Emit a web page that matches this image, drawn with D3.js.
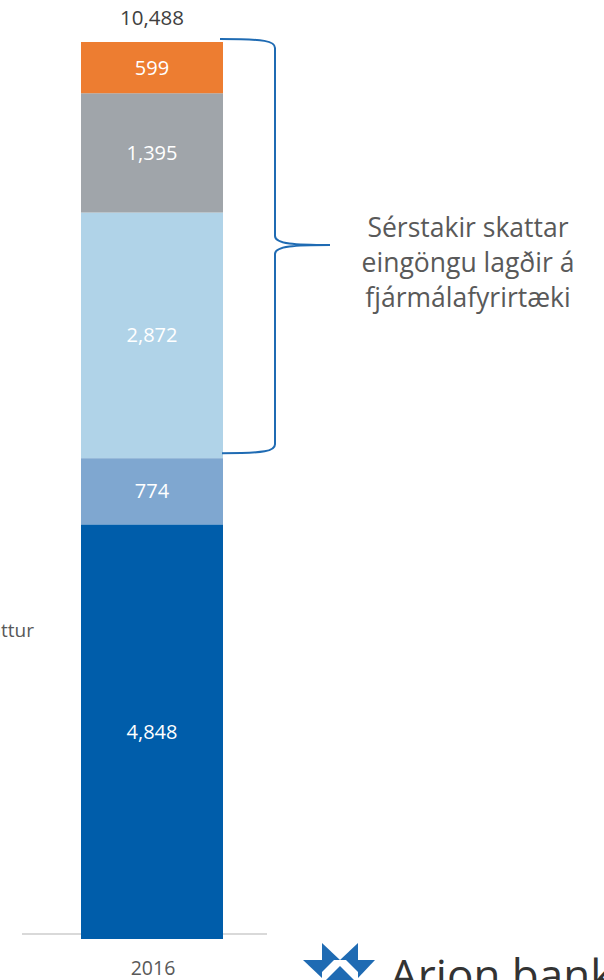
<!DOCTYPE html>
<html>
<head>
<meta charset="utf-8">
<script src="https://cdn.jsdelivr.net/npm/d3@7"></script>
<style>
  html, body { margin: 0; padding: 0; background: #fff; }
  svg { display: block; }
</style>
</head>
<body>
<svg id="chart" width="604" height="980"></svg>
<script>
// ---- data ----
const categories = ["2016"];
const seriesNames = ["Tekjuskattur", "Tryggingagjald", "Bankaskattur", "Fjársýsluskattur", "Sérstakur fjársýsluskattur"];
const seriesValues = [4848, 774, 2872, 1395, 599];
const seriesColors = ["#005DAA", "#7FA7D0", "#B0D3E8", "#A0A5AA", "#ED7D31"];
const totalLabel = "10,488";
const bracketText = ["Sérstakir skattar", "eingöngu lagðir á", "fjármálafyrirtæki"];
const bracketFirst = 2, bracketLast = 4; // series indices covered by the brace

const svg = d3.select("#chart");
const font = "'Open Sans', 'Noto Sans', sans-serif";

const x = d3.scaleBand().domain(categories).range([81, 223]).padding(0);
const total = d3.sum(seriesValues);
const y = d3.scaleLinear().domain([0, total]).range([939, 42]);

// build stacked table
const row = { cat: categories[0] };
seriesNames.forEach((n, i) => row[n] = seriesValues[i]);
const stacked = d3.stack().keys(seriesNames)([row]);

// baseline
svg.append("line")
  .attr("x1", 22).attr("x2", 267)
  .attr("y1", 934).attr("y2", 934)
  .attr("stroke", "#d9d9d9").attr("stroke-width", 2);

// bars
const g = svg.append("g");
stacked.forEach((s, i) => {
  const d = s[0];
  g.append("rect")
    .attr("x", x(d.data.cat))
    .attr("width", x.bandwidth())
    .attr("y", y(d[1]))
    .attr("height", y(d[0]) - y(d[1]))
    .attr("fill", seriesColors[i]);
  g.append("text")
    .attr("x", x(d.data.cat) + x.bandwidth() / 2)
    .attr("y", (y(d[0]) + y(d[1])) / 2)
    .attr("dy", "0.35em")
    .attr("text-anchor", "middle")
    .attr("font-family", font)
    .attr("font-size", 20)
    .attr("fill", "#fff")
    .text(d3.format(",")(seriesValues[i]));
});

// total label
svg.append("text")
  .attr("x", x(categories[0]) + x.bandwidth() / 2)
  .attr("y", y(total) - 17)
  .attr("text-anchor", "middle")
  .attr("font-family", font)
  .attr("font-size", 20.5)
  .attr("fill", "#404040")
  .text(totalLabel);

// category label
svg.append("text")
  .attr("x", x(categories[0]) + x.bandwidth() / 2 + 1)
  .attr("y", 975)
  .attr("text-anchor", "middle")
  .attr("font-family", font)
  .attr("font-size", 19.5)
  .attr("fill", "#595959")
  .text(categories[0]);

// series label for bottom segment (cut off at left edge, as in the reference)
svg.append("text")
  .attr("x", 34)
  .attr("y", 637)
  .attr("text-anchor", "end")
  .attr("font-family", font)
  .attr("font-size", 19)
  .attr("fill", "#595959")
  .text(seriesNames[0]);

// brace
const topY = y(stacked[bracketLast][0][1]) - 3;
const botY = y(stacked[bracketFirst][0][0]) - 5;
const midY = (topY + botY) / 2 - 1;
const x0 = 220, xv = 275, xt = 330;
const p = d3.path();
p.moveTo(x0, topY);
p.bezierCurveTo(xv - 10, topY, xv, topY + 2, xv, topY + 9);
p.lineTo(xv, midY - 9);
p.bezierCurveTo(xv, midY - 1, xv + 20, midY, xt, midY);
p.bezierCurveTo(xv + 20, midY, xv, midY + 1, xv, midY + 9);
p.lineTo(xv, botY - 9);
p.bezierCurveTo(xv, botY - 2, xv - 10, botY, x0 + 2, botY);
svg.append("path")
  .attr("d", p.toString())
  .attr("fill", "none")
  .attr("stroke", "#1F6BB3")
  .attr("stroke-width", 2);

// bracket text
const bt = svg.append("text")
  .attr("text-anchor", "middle")
  .attr("font-family", font)
  .attr("font-size", 26.5)
  .attr("fill", "#595959");
bracketText.forEach((t, i) => {
  bt.append("tspan").attr("x", 468).attr("y", 237 + i * 35).text(t);
});

// logo
const logo = svg.append("g").attr("fill", "#1F6BB3");
const polys = [
  [[322, 943], [322, 960], [340, 960]],
  [[358, 943], [358, 960], [340, 960]],
  [[303, 960], [322, 960], [322, 978]],
  [[375, 960], [358, 960], [358, 978]],
  [[322, 960], [334, 960], [322, 972]],
  [[358, 960], [346, 960], [358, 972]],
  [[340, 966], [322, 984], [358, 984]]
];
polys.forEach(pts => logo.append("polygon").attr("points", pts.map(q => q.join(",")).join(" ")));
svg.append("text")
  .attr("x", 390)
  .attr("y", 991)
  .attr("font-family", font)
  .attr("font-size", 44)
  .attr("fill", "#333333")
  .text("Arion banki");
</script>
</body>
</html>
